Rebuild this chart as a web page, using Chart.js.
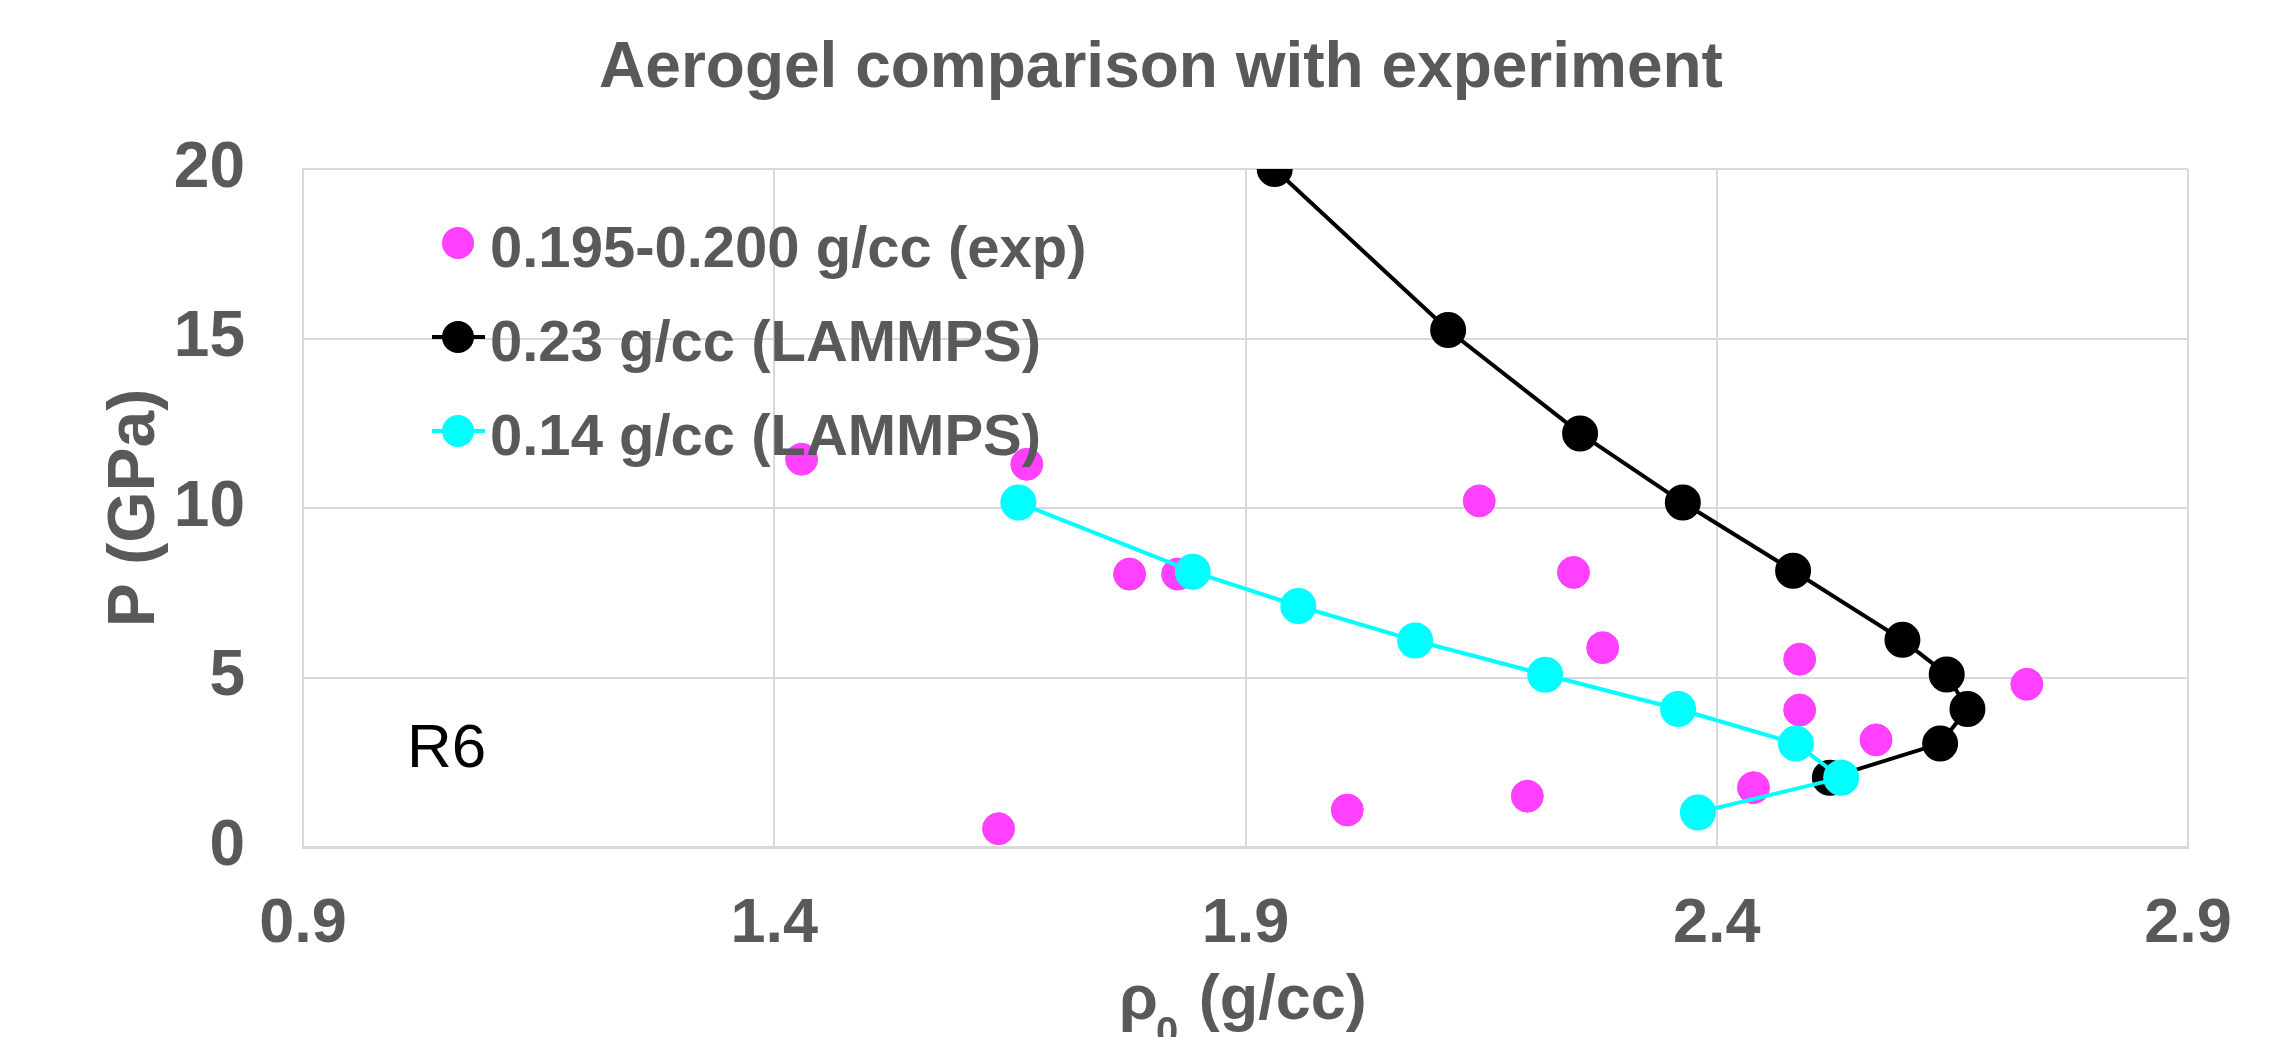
<!DOCTYPE html>
<html>
<head>
<meta charset="utf-8">
<script src="https://cdn.jsdelivr.net/npm/chart.js@4.4.0/dist/chart.umd.min.js"></script>
<style>
  html, body { margin: 0; padding: 0; background: #ffffff; }
</style>
</head>
<body>
<canvas id="chart" width="2296" height="1037"></canvas>
<script>
// Aerogel shock data: initial density vs pressure

// experiment, 0.195-0.200 g/cc
const expRho = [1.429, 1.668, 1.777, 1.828, 2.148, 2.248, 2.279, 2.488, 2.488, 2.729, 2.569, 2.439, 2.199, 2.008, 1.638];
const expP   = [11.44, 11.29, 8.05, 8.05, 10.21, 8.10, 5.88, 5.54, 4.04, 4.80, 3.16, 1.75, 1.50, 1.09, 0.54];

// LAMMPS, 0.23 g/cc
const rho023 = [1.931, 2.115, 2.255, 2.364, 2.481, 2.597, 2.644, 2.666, 2.637, 2.520];
const p023   = [20.0, 15.25, 12.20, 10.16, 8.15, 6.11, 5.09, 4.07, 3.05, 2.04];

// LAMMPS, 0.14 g/cc
const rho014 = [1.659, 1.844, 1.956, 2.080, 2.218, 2.359, 2.484, 2.532, 2.380];
const p014   = [10.16, 8.12, 7.11, 6.09, 5.08, 4.07, 3.05, 2.04, 1.02];

const seriesLabels = ['0.195-0.200 g/cc (exp)', '0.23 g/cc (LAMMPS)', '0.14 g/cc (LAMMPS)'];
const xTicks = [0.9, 1.4, 1.9, 2.4, 2.9];
const yTicks = [0, 5, 10, 15, 20];

const chartTitle = 'Aerogel comparison with experiment';
const yTitle = 'P (GPa)';
const noteText = 'R6';

const grey = '#595959';
const fam = '"Liberation Sans", Arial, sans-serif';

const toPoints = (xs, ys) => xs.map((x, i) => ({ x: x, y: ys[i] }));

// title, axis title with subscript, note and legend drawn on the canvas
const overlay = {
  id: 'overlay',
  afterDatasetsDraw(chart) {
    const ctx = chart.ctx;
    ctx.save();
    chart.data.datasets.forEach((ds, i) => {
      const cx = 458, cy = 243 + i * 94;
      if (ds.showLine) {
        ctx.strokeStyle = ds.borderColor;
        ctx.lineWidth = 4;
        ctx.beginPath();
        ctx.moveTo(cx - 26, cy);
        ctx.lineTo(cx + 27, cy);
        ctx.stroke();
      }
      ctx.fillStyle = ds.pointBackgroundColor;
      ctx.beginPath();
      ctx.arc(cx, cy, 16, 0, Math.PI * 2);
      ctx.fill();
      ctx.fillStyle = grey;
      ctx.font = 'bold 58px ' + fam;
      ctx.textAlign = 'left';
      ctx.textBaseline = 'alphabetic';
      ctx.fillText(ds.label, 490, cy + 24);
    });
    ctx.restore();
  },
  afterDraw(chart) {
    const ctx = chart.ctx;
    ctx.save();
    ctx.textBaseline = 'alphabetic';

    ctx.fillStyle = grey;
    ctx.font = 'bold 64px ' + fam;
    ctx.textAlign = 'center';
    ctx.fillText(chartTitle, 1161, 87);

    // rho_0 (g/cc)
    ctx.textAlign = 'left';
    const big = 'bold 63px ' + fam;
    const small = 'bold 40px ' + fam;
    let x = 1119;
    ctx.font = big;
    ctx.fillText('ρ', x, 1019);
    x += ctx.measureText('ρ').width - 2;
    ctx.font = small;
    ctx.fillText('0', x, 1045);
    x += ctx.measureText('0').width + 3;
    ctx.font = big;
    ctx.fillText(' (g/cc)', x, 1019);

    ctx.fillStyle = '#000000';
    ctx.font = '62px ' + fam;
    ctx.fillText(noteText, 407, 767);
    ctx.restore();
  }
};

const ctx = document.getElementById('chart').getContext('2d');
new Chart(ctx, {
  type: 'scatter',
  data: {
    datasets: [{
      label: seriesLabels[0],
      data: toPoints(expRho, expP),
      pointBackgroundColor: '#ff40ff',
      pointBorderColor: '#ff40ff',
      pointRadius: 16,
      showLine: false,
      order: 3
    }, {
      label: seriesLabels[1],
      data: toPoints(rho023, p023),
      borderColor: '#000000',
      borderWidth: 4,
      pointBackgroundColor: '#000000',
      pointBorderColor: '#000000',
      pointRadius: 16,
      showLine: true,
      tension: 0,
      order: 2
    }, {
      label: seriesLabels[2],
      data: toPoints(rho014, p014),
      borderColor: '#00ffff',
      borderWidth: 4,
      pointBackgroundColor: '#00ffff',
      pointBorderColor: '#00ffff',
      pointRadius: 16,
      showLine: true,
      tension: 0,
      order: 1
    }]
  },
  options: {
    responsive: false,
    animation: false,
    devicePixelRatio: 1,
    layout: { padding: { top: 169, right: 108, bottom: 0, left: 0 } },
    plugins: {
      legend: { display: false },
      tooltip: { enabled: false },
      title: { display: false }
    },
    scales: {
      x: {
        type: 'linear',
        min: xTicks[0],
        max: xTicks[xTicks.length - 1],
        afterBuildTicks: (scale) => { scale.ticks = xTicks.map(v => ({ value: v })); },
        afterFit: (scale) => { scale.height = 190; },
        grid: { color: '#d9d9d9', lineWidth: 2, drawTicks: false },
        border: { color: '#d9d9d9', width: 3 },
        ticks: {
          color: grey,
          padding: 40,
          font: { family: fam, size: 63, weight: 'bold' },
          callback: (v) => v.toFixed(1)
        }
      },
      y: {
        type: 'linear',
        min: yTicks[0],
        max: yTicks[yTicks.length - 1],
        afterBuildTicks: (scale) => { scale.ticks = yTicks.map(v => ({ value: v })); },
        afterFit: (scale) => { scale.width = 303; },
        grid: { color: '#d9d9d9', lineWidth: 2, drawTicks: false },
        border: { color: '#d9d9d9', width: 2 },
        ticks: {
          color: grey,
          padding: 58,
          font: { family: fam, size: 64, weight: 'bold' }
        },
        title: {
          display: true,
          text: yTitle,
          color: grey,
          padding: { top: 96, bottom: 0 },
          font: { family: fam, size: 66, weight: 'bold' }
        }
      }
    }
  },
  plugins: [overlay]
});
</script>
</body>
</html>
